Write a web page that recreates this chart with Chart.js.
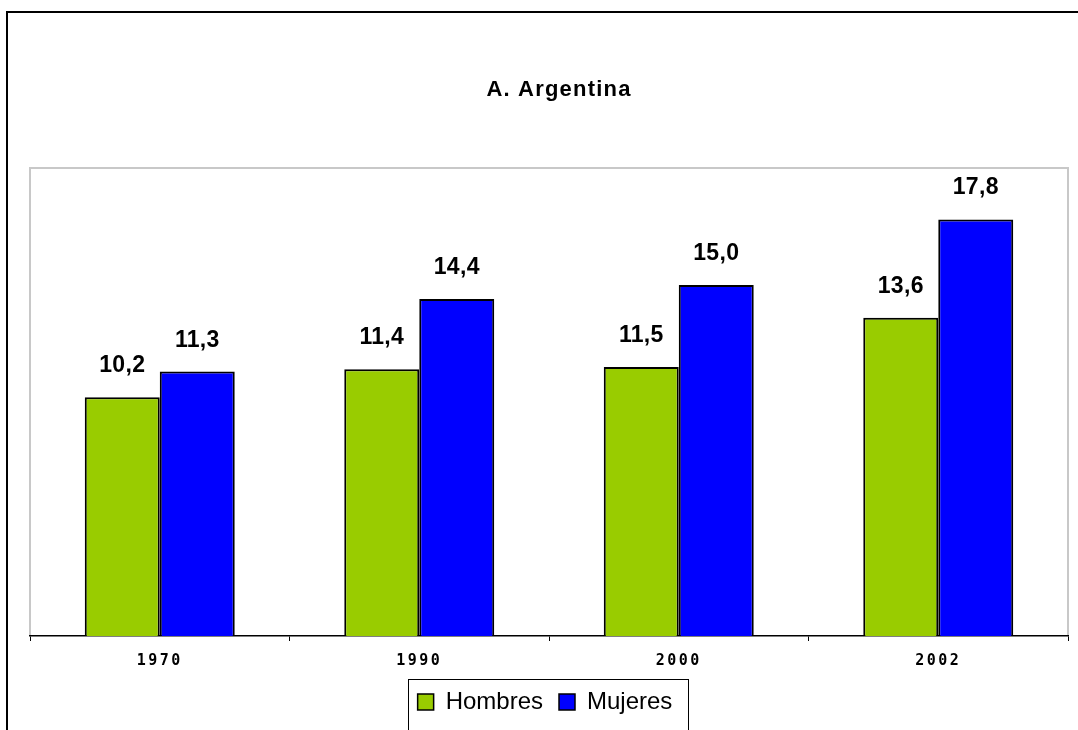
<!DOCTYPE html>
<html><head><meta charset="utf-8">
<script src="https://cdn.jsdelivr.net/npm/chart.js@4.4.1/dist/chart.umd.min.js"></script>
<style>html,body{margin:0;padding:0;background:#fff;overflow:hidden}#wrap{width:1078px;height:730px;position:relative}</style>
</head><body><div id="wrap"><canvas id="c" width="1078" height="730"></canvas></div>
<script>
const categories = ['1970', '1990', '2000', '2002'];
const hombres = [10.2, 11.4, 11.5, 13.6];
const mujeres = [11.3, 14.4, 15.0, 17.8];
const seriesNames = ['Hombres', 'Mujeres'];
const chartTitle = 'A. Argentina';
const yMin = 0, yMax = 20;

const SANS = '"Liberation Sans", Arial, Helvetica, sans-serif';
const LEGEND_SHIFT = -4;
const TITLE_SHIFT = 10;

function wrapDraw(obj, fnName, spacing, dx) {
  if (!obj || obj['_ls_' + fnName]) return;
  const orig = obj[fnName];
  obj[fnName] = function (...args) {
    const ctx = this.ctx;
    ctx.save();
    ctx.letterSpacing = spacing;
    if (dx) ctx.translate(dx, 0);
    const r = orig.apply(this, args);
    ctx.restore();
    return r;
  };
  obj['_ls_' + fnName] = true;
}

const framePlugin = {
  id: 'frame',
  beforeDraw(chart) {
    const ctx = chart.ctx;
    wrapDraw(chart.scales.x, 'drawLabels', '2.5px', 0);
    wrapDraw(chart.titleBlock, 'draw', '1.2px', TITLE_SHIFT);
    wrapDraw(chart.legend, 'draw', '0px', LEGEND_SHIFT);
    ctx.save();
    ctx.fillStyle = '#fff';
    ctx.fillRect(0, 0, chart.width, chart.height);
    ctx.strokeStyle = '#000';
    ctx.lineWidth = 2;
    ctx.strokeRect(7, 12, chart.width + 20, chart.height + 20);
    const a = chart.chartArea;
    ctx.strokeStyle = '#c8c8c8';
    ctx.lineWidth = 2;
    ctx.beginPath();
    ctx.moveTo(a.left, a.bottom);
    ctx.lineTo(a.left, a.top);
    ctx.lineTo(a.right, a.top);
    ctx.lineTo(a.right, a.bottom);
    ctx.stroke();
    ctx.restore();
  },
  afterDatasetsDraw(chart) {
    const ctx = chart.ctx;
    ctx.save();
    ctx.font = 'bold 23px ' + SANS;
    ctx.letterSpacing = '0.3px';
    ctx.fillStyle = '#000';
    ctx.textAlign = 'center';
    ctx.textBaseline = 'alphabetic';
    chart.data.datasets.forEach((ds, di) => {
      const meta = chart.getDatasetMeta(di);
      meta.data.forEach((el, i) => {
        const txt = ds.data[i].toFixed(1).replace('.', ',');
        ctx.fillText(txt, el.x, el.y - 25);
      });
    });
    ctx.restore();
  },
  afterDraw(chart) {
    const lg = chart.legend;
    if (!lg || !lg.legendHitBoxes || !lg.legendHitBoxes.length) return;
    const hb = lg.legendHitBoxes;
    const first = hb[0], last = hb[hb.length - 1];
    const ctx = chart.ctx;
    ctx.save();
    ctx.strokeStyle = '#000';
    ctx.lineWidth = 1;
    const left = Math.round(first.left + LEGEND_SHIFT - 10) + 0.5;
    const right = Math.round(last.left + last.width + LEGEND_SHIFT + 16) + 0.5;
    const top = Math.round(first.top - 11) + 0.5;
    ctx.strokeRect(left, top, right - left, chart.height + 20 - top);
    ctx.restore();
  }
};

new Chart(document.getElementById('c'), {
  type: 'bar',
  data: {
    labels: categories,
    datasets: [
      { label: seriesNames[0], data: hombres, backgroundColor: '#99cc00', borderColor: '#000', borderWidth: 2,
        categoryPercentage: 0.578, barPercentage: 1.0 },
      { label: seriesNames[1], data: mujeres, backgroundColor: '#0000ff', borderColor: '#000', borderWidth: 2,
        categoryPercentage: 0.578, barPercentage: 1.0 }
    ]
  },
  options: {
    responsive: false,
    devicePixelRatio: 1,
    animation: false,
    layout: { padding: { left: 30, right: 10, top: 0, bottom: 6 } },
    plugins: {
      title: {
        display: true, text: chartTitle, color: '#000',
        font: { family: SANS, weight: 'bold', size: 22 },
        lineHeight: 1.2,
        padding: { top: 77, bottom: 64.6 }
      },
      legend: {
        display: true, position: 'bottom',
        labels: {
          color: '#000', boxWidth: 16, boxHeight: 16, padding: 16,
          font: { family: SANS, size: 24 },
          generateLabels(chart) {
            return chart.data.datasets.map((ds, i) => ({
              text: ds.label, fillStyle: ds.backgroundColor, strokeStyle: '#000',
              lineWidth: 1.5, hidden: false, datasetIndex: i, fontColor: '#000'
            }));
          }
        }
      },
      tooltip: { enabled: false }
    },
    scales: {
      x: {
        grid: { display: true, drawOnChartArea: false, drawTicks: true, tickLength: 5, color: '#000', offset: true },
        border: { display: true, color: '#000', width: 1.5 },
        ticks: { color: '#000', padding: 11, font: { family: '"DejaVu Sans Mono", monospace', weight: 'bold', size: 15 } },
        afterFit(scale) { scale.height = 38; }
      },
      y: {
        display: false, min: yMin, max: yMax,
        grid: { display: false }
      }
    }
  },
  plugins: [framePlugin]
});
</script>
</body></html>
